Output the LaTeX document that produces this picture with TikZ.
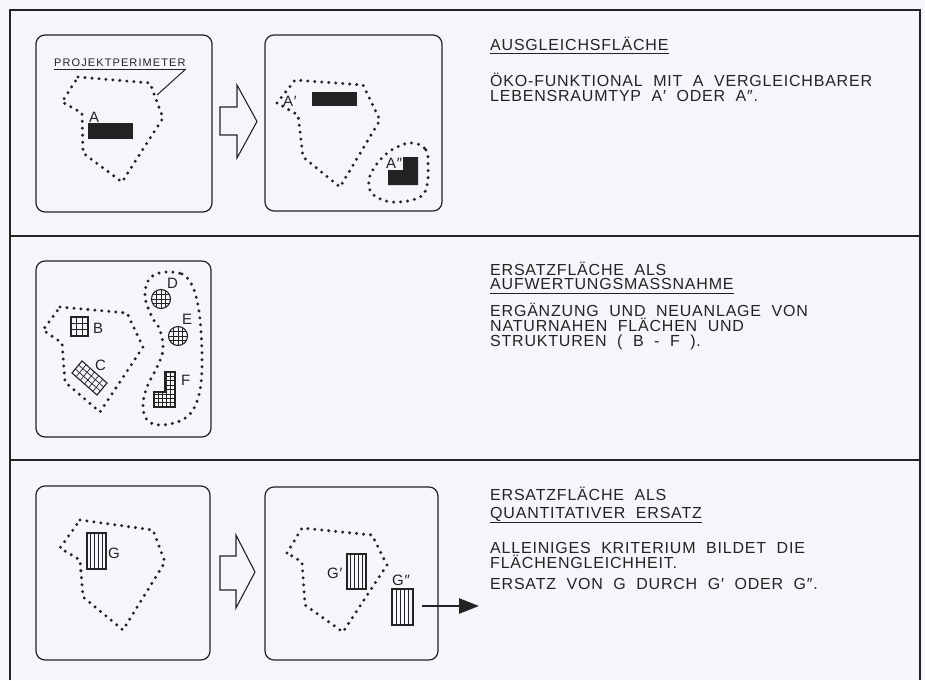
\documentclass[tikz,border=0pt]{standalone}
\usepackage{fontspec}
\setmainfont{Liberation Sans}[LetterSpace=5,WordSpace=2]
\usetikzlibrary{arrows.meta}
\definecolor{bg}{RGB}{245,246,250}
\definecolor{ink}{RGB}{35,35,35}
\begin{document}
\begin{tikzpicture}[x=1pt,y=-1pt,
  frame/.style={line width=1.1pt, draw=ink},
  box/.style={line width=1.2pt, draw=ink, rounded corners=9pt},
  dotline/.style={draw=ink, line width=3.3pt, line cap=round, dash pattern=on 0pt off 7pt},
  hollow/.style={draw=ink, line width=1.1pt, fill=bg, line join=miter},
  txt/.style={inner sep=0pt, anchor=base west, text=ink, font=\fontsize{16}{18}\selectfont},
  lab/.style={inner sep=0pt, anchor=base west, text=ink, font=\fontsize{15}{16}\selectfont},
  small/.style={inner sep=0pt, anchor=base west, text=ink, font=\fontsize{11}{12}\selectfont\addfontfeature{LetterSpace=10}},
  hatch/.style={draw=ink, line width=0.7pt},
  outl/.style={draw=ink, line width=1.1pt},
  blk/.style={fill=ink},
  uline/.style={draw=ink, line width=1pt}
]
\useasboundingbox (0,0) rectangle (925,680);
\fill[bg] (0,0) rectangle (925,680);

% outer frame and separators
\draw[frame] (10,680) -- (10,10) -- (920,10) -- (920,680);
\draw[frame] (10,236) -- (920,236);
\draw[frame] (10,460) -- (920,460);

%%%%%%%%%%%%%%%% SECTION 1
\draw[box] (36,35) rectangle (212,212);
\draw[box] (265,35) rectangle (442,211);
\draw[hollow] (220,107) -- (237,107) -- (237,85) -- (257,121.5) -- (237,158) -- (237,135) -- (220,135) -- cycle;

% box 1
\node[small] (pp) at (54,66.5) {PROJEKTPERIMETER};
\draw[uline] ([yshift=-2.5pt]pp.base west) -- ([yshift=-2.5pt]pp.base east);
\coordinate (ppend) at (157,95);
\draw[uline] ([yshift=-2.5pt]pp.base east) -- (ppend);
\draw[dotline] (78,77) -- (150,83) -- (163,118) -- (122,182) -- (83,153) -- (82,113) -- (62,102) -- cycle;
\node[lab] (la) at (89,122) {A};
\fill[blk] (88,123) rectangle (133,139);

% box 2
\draw[dotline] (277,103) -- (295,80) -- (363,85) -- (380,120) -- (340,187) -- (303,157) -- (298,115) -- cycle;
\node[lab] (la1) at (283,106) {A′};
\fill[blk] (312,92) rectangle (357,106);
\draw[dotline] plot[smooth cycle, tension=0.7] coordinates {(413,143) (426,150) (428,166) (427,185) (420,197) (400,202) (383,200) (371,192) (369,180) (374,168) (384,156) (397,147)};
\fill[blk] (403,157) -- (418,157) -- (418,185) -- (388,185) -- (388,170) -- (403,170) -- cycle;
\node[lab] (la2) at (386,168) {A″};

% text
\node[txt] (t1a) at (490,50) {AUSGLEICHSFLÄCHE};
\draw[uline] ([yshift=-3.5pt]t1a.base west) -- ([yshift=-3.5pt]t1a.base east);
\node[txt] (t1b) at (490,86) {ÖKO-FUNKTIONAL MIT A VERGLEICHBARER};
\node[txt] (t1c) at (490,101.5) {LEBENSRAUMTYP A′ ODER A″.};

%%%%%%%%%%%%%%%% SECTION 2
\draw[box] (36,261) rectangle (211,437);
\draw[dotline] (60,307) -- (127,313) -- (143,347) -- (100,412) -- (65,382) -- (62,343) -- (43,330) -- cycle;
% B
\foreach \i in {1,2} {
  \draw[hatch] (71+\i*17/3,317) -- (71+\i*17/3,336);
  \draw[hatch] (71,317+\i*19/3) -- (88,317+\i*19/3);
}
\draw[outl] (71,317) rectangle (88,336);
\node[lab] (lb) at (93,333) {B};
% C (rotated)
\begin{scope}[shift={(72,373)}, x={(25pt,-22pt)}, y={(10pt,12pt)}]
  \foreach \i in {1,...,5} {\draw[hatch] (\i/6,0) -- (\i/6,1);}
  \foreach \j in {1,2} {\draw[hatch] (0,\j/3) -- (1,\j/3);}
  \draw[outl] (0,0) -- (1,0) -- (1,1) -- (0,1) -- cycle;
\end{scope}
\node[lab] (lc) at (95,370) {C};
% DEF blob
\draw[dotline] plot[smooth cycle, tension=0.6] coordinates {(167,272) (182,274) (192,285) (198,305) (201,332) (202,363) (200,390) (193,410) (180,421) (160,425) (147,420) (143,405) (147,387) (157,367) (163,350) (160,330) (152,317) (145,297) (148,281) (156,274)};
% D
\begin{scope}
  \clip (161,299) circle[radius=9.5pt];
  \foreach \d in {-4.75,0,4.75} {
    \draw[hatch] (161+\d,288) -- (161+\d,310);
    \draw[hatch] (150,299+\d) -- (172,299+\d);
  }
\end{scope}
\draw[outl] (161,299) circle[radius=9.5pt];
\node[lab] (ld) at (167,288) {D};
% E
\begin{scope}
  \clip (178,336) circle[radius=9.5pt];
  \foreach \d in {-4.75,0,4.75} {
    \draw[hatch] (178+\d,325) -- (178+\d,347);
    \draw[hatch] (167,336+\d) -- (189,336+\d);
  }
\end{scope}
\draw[outl] (178,336) circle[radius=9.5pt];
\node[lab] (le) at (182,324) {E};
% F
\begin{scope}
  \clip (165,372) -- (175,372) -- (175,407) -- (154,407) -- (154,392) -- (165,392) -- cycle;
  \foreach \i in {1,...,4} {\draw[hatch] (154+\i*4.2,370) -- (154+\i*4.2,409);}
  \foreach \j in {1,...,7} {\draw[hatch] (152,407-\j*4.375) -- (177,407-\j*4.375);}
\end{scope}
\draw[outl] (165,372) -- (175,372) -- (175,407) -- (154,407) -- (154,392) -- (165,392) -- cycle;
\node[lab] (lf) at (181,385) {F};

% text
\node[txt] (t2a) at (490,275) {ERSATZFLÄCHE ALS};
\node[txt] (t2b) at (490,289.5) {AUFWERTUNGSMASSNAHME};
\draw[uline] ([yshift=-3.5pt]t2b.base west) -- ([yshift=-3.5pt]t2b.base east);
\node[txt] (t2c) at (490,316.5) {ERGÄNZUNG UND NEUANLAGE VON};
\node[txt] (t2d) at (490,331.5) {NATURNAHEN FLÄCHEN UND};
\node[txt] (t2e) at (490,346) {STRUKTUREN ( B - F ).};

%%%%%%%%%%%%%%%% SECTION 3
\draw[box] (36,486) rectangle (210,660);
\draw[box] (265,487) rectangle (438,660);
\draw[hollow] (220,556) -- (236,556) -- (236,535) -- (255,572) -- (236,608) -- (236,590) -- (220,590) -- cycle;

\draw[dotline] (80,520) -- (153,530) -- (165,562) -- (123,630) -- (83,597) -- (80,560) -- (60,548) -- cycle;
% G
\foreach \i in {1,...,4} {\draw[hatch] (87+\i*3.8,533) -- (87+\i*3.8,569);}
\draw[outl] (87,533) rectangle (106,569);
\node[lab] (lg) at (108,558) {G};

\draw[dotline] (287,553) -- (302,528) -- (372,535) -- (387,565) -- (343,632) -- (305,605) -- (302,562) -- cycle;
% G'
\foreach \i in {1,...,4} {\draw[hatch] (347+\i*3.8,554) -- (347+\i*3.8,589);}
\draw[outl] (347,554) rectangle (366,589);
\node[lab] (lg1) at (327,578) {G′};
% G''
\foreach \i in {1,...,4} {\draw[hatch] (392+\i*4.2,589) -- (392+\i*4.2,625);}
\draw[outl] (392,589) rectangle (413,625);
\node[lab] (lg2) at (392,585) {G″};
\coordinate (ga) at (422,606);
\coordinate (gb) at (479,606);
\draw[draw=ink, line width=2.6pt, -{Triangle[length=20pt,width=15pt]}] (ga) -- (gb);

% text
\node[txt] (t3a) at (490,500) {ERSATZFLÄCHE ALS};
\node[txt] (t3b) at (490,518.3) {QUANTITATIVER ERSATZ};
\draw[uline] ([yshift=-4.5pt]t3b.base west) -- ([yshift=-4.5pt]t3b.base east);
\node[txt] (t3c) at (490,553.3) {ALLEINIGES KRITERIUM BILDET DIE};
\node[txt] (t3d) at (490,568.3) {FLÄCHENGLEICHHEIT.};
\node[txt] (t3e) at (490,589.3) {ERSATZ VON G DURCH G′ ODER G″.};
\end{tikzpicture}
\end{document}
